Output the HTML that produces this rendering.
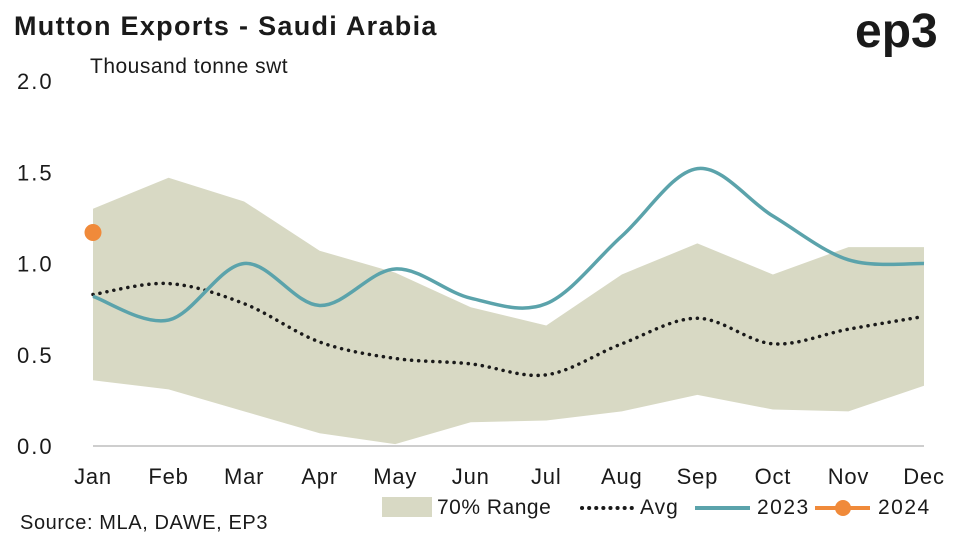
<!DOCTYPE html>
<html><head><meta charset="utf-8"><style>
body{margin:0;background:#fff;font-family:"Liberation Sans",sans-serif;}
svg{display:block}
</style></head><body>
<svg id="c" width="962" height="541">
<text x="14" y="35" font-size="27" font-weight="bold" fill="#1a1a1a" letter-spacing="1.3">Mutton Exports - Saudi Arabia</text>
<text x="855" y="47" font-size="48" font-weight="bold" fill="#1a1a1a">ep3</text>
<text x="90" y="73" font-size="21" fill="#1a1a1a" letter-spacing="0.5">Thousand tonne swt</text>
<text x="20" y="529" font-size="20" fill="#1a1a1a" letter-spacing="0.6">Source: MLA, DAWE, EP3</text>
<g id="grid"></g><g id="marks"></g><g id="axes"></g>
<g>
<rect x="382" y="497" width="50" height="20" fill="#d8d9c4"/>
<text x="437" y="514" font-size="21" fill="#1a1a1a" letter-spacing="0.5">70% Range</text>
<line x1="582" y1="508" x2="632" y2="508" stroke="#1a1a1a" stroke-width="4" stroke-dasharray="0.1 7" stroke-linecap="round"/>
<text x="640" y="514" font-size="21" fill="#1a1a1a" letter-spacing="1">Avg</text>
<line x1="695" y1="508" x2="750" y2="508" stroke="#5ba3ab" stroke-width="4"/>
<text x="757" y="514" font-size="21" fill="#1a1a1a" letter-spacing="1.5">2023</text>
<line x1="815" y1="508" x2="870" y2="508" stroke="#f08a3a" stroke-width="4"/>
<circle cx="843" cy="508" r="8" fill="#f08a3a"/>
<text x="878" y="514" font-size="21" fill="#1a1a1a" letter-spacing="1.5">2024</text>
</g>
</svg>
<script>
const months=["Jan","Feb","Mar","Apr","May","Jun","Jul","Aug","Sep","Oct","Nov","Dec"];
const yTicks=[0,0.5,1.0,1.5,2.0];
const rangeHigh=[1.30,1.47,1.34,1.07,0.95,0.76,0.66,0.94,1.11,0.94,1.09,1.09];
const rangeLow=[0.36,0.31,0.19,0.07,0.01,0.13,0.14,0.19,0.28,0.20,0.19,0.33];
const avg=[0.83,0.89,0.78,0.57,0.48,0.45,0.39,0.56,0.70,0.56,0.64,0.71];
const s2023=[0.82,0.69,1.00,0.77,0.97,0.81,0.78,1.15,1.52,1.26,1.02,1.00];
const s2024=[1.17];
const NS="http://www.w3.org/2000/svg";
const x=i=>93+i*(924-93)/11;
const y=v=>446-v*182.5;
function mk(t,a,p){const e=document.createElementNS(NS,t);for(const k in a)e.setAttribute(k,a[k]);p.appendChild(e);return e;}
const G=document.getElementById('grid'),M=document.getElementById('marks'),A=document.getElementById('axes');
yTicks.forEach(v=>{
 const t=mk('text',{x:17,y:y(v)+8,'font-size':22,fill:'#1a1a1a','letter-spacing':2},A);t.textContent=v.toFixed(1);
 
 
});
const base=mk('line',{x1:93,x2:924,y1:y(0),y2:y(0),stroke:'#bdbdbd','stroke-width':1.5},A);


months.forEach((m,i)=>{const t=mk('text',{x:x(i),y:484,'font-size':22,fill:'#1a1a1a','text-anchor':'middle','letter-spacing':0.8},A);t.textContent=m;
 
 });
let d='M'+rangeHigh.map((v,i)=>x(i)+','+y(v)).join('L');
for(let i=rangeLow.length-1;i>=0;i--)d+='L'+x(i)+','+y(rangeLow[i]);
const area=mk('path',{d:d+'Z',fill:'#d8d9c4'},M);


function smooth(arr){const p=arr.map((v,i)=>[x(i),y(v)]);let s='M'+p[0];
 for(let i=0;i<p.length-1;i++){const p0=p[i-1]||p[i],p1=p[i],p2=p[i+1],p3=p[i+2]||p2;
  const c1=[p1[0]+(p2[0]-p0[0])/6,p1[1]+(p2[1]-p0[1])/6],c2=[p2[0]-(p3[0]-p1[0])/6,p2[1]-(p3[1]-p1[1])/6];
  s+='C'+c1+' '+c2+' '+p2;}return s;}
const a=mk('path',{d:smooth(avg),fill:'none',stroke:'#1a1a1a','stroke-width':3.5,'stroke-dasharray':'0.1 7','stroke-linecap':'round'},M);


const l3=mk('path',{d:smooth(s2023),fill:'none',stroke:'#5ba3ab','stroke-width':3.5},M);


s2024.forEach((v,i)=>{const c=mk('circle',{cx:x(i),cy:y(v),r:8.5,fill:'#f08a3a'},M);
 
 });
</script>
</body></html>
